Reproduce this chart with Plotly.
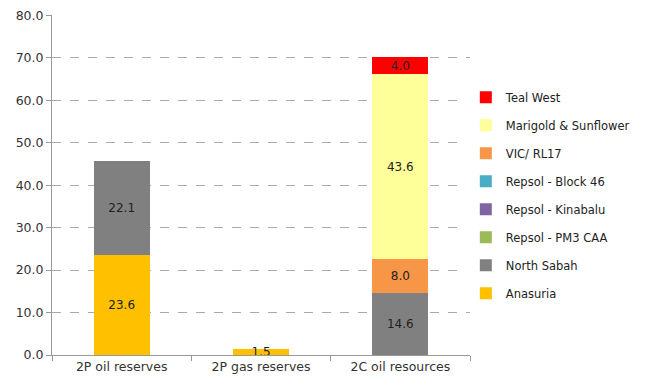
import plotly.graph_objects as go

categories = ["2P oil reserves", "2P gas reserves", "2C oil resources"]
series_names = ["Anasuria", "North Sabah", "Repsol - PM3 CAA", "Repsol - Kinabalu",
                "Repsol - Block 46", "VIC/ RL17", "Marigold & Sunflower", "Teal West"]
anasuria = [23.6, 1.5, 0.0]
north_sabah = [22.1, 0.0, 14.6]
repsol_pm3 = [0.0, 0.0, 0.0]
repsol_kinabalu = [0.0, 0.0, 0.0]
repsol_block46 = [0.0, 0.0, 0.0]
vic_rl17 = [0.0, 0.0, 8.0]
marigold = [0.0, 0.0, 43.6]
teal_west = [0.0, 0.0, 4.0]
y_ticks = [0, 10, 20, 30, 40, 50, 60, 70, 80]

values = [anasuria, north_sabah, repsol_pm3, repsol_kinabalu, repsol_block46,
          vic_rl17, marigold, teal_west]
colors = ["#FFC000", "#808080", "#9BBB59", "#8064A2", "#4BACC6", "#F79646",
          "#FFFF99", "#FF0000"]

FONT = "DejaVu Sans"
fig = go.Figure()
n = len(series_names)
for i, (name, vals, col) in enumerate(zip(series_names, values, colors)):
    fig.add_trace(go.Bar(
        x=categories, y=vals, name=name, marker=dict(color=col, line=dict(width=0)),
        text=[f"{v:.1f}" if v > 0 else "" for v in vals],
        textposition="inside", insidetextanchor="middle",
        textfont=dict(family=FONT, size=12, color="#222222"),
        legendgroup=f"g{i}", legendrank=100 + (n - i), hoverinfo="x+y+name",
    ))

fig.update_layout(
    barmode="stack", bargap=0.6,
    width=653, height=385,
    margin=dict(l=52, r=183, t=15, b=30, autoexpand=False),
    paper_bgcolor="white", plot_bgcolor="white",
    font=dict(family=FONT, size=12, color="#333333"),
    uniformtext=dict(minsize=12, mode="show"),
    legend=dict(x=0.99, xanchor="left", y=0.47, yanchor="middle",
                traceorder="grouped", tracegroupgap=9, itemwidth=30,
                font=dict(family=FONT, size=11.5, color="#222222")),
    xaxis=dict(showline=True, linecolor="#999999", ticks="outside", tickson="boundaries",
               ticklen=5, tickcolor="#999999", tickfont=dict(size=12.5, color="#333333")),
    yaxis=dict(range=[0, 80.1], tickvals=y_ticks, tickformat=".1f",
               showline=True, linecolor="#999999", ticks="outside", ticklen=5,
               tickcolor="#999999", showgrid=True, gridcolor="#AAAAAA", griddash="dash",
               gridwidth=1, zeroline=False, tickfont=dict(size=12.5, color="#333333")),
)
fig.write_html("out.html")
